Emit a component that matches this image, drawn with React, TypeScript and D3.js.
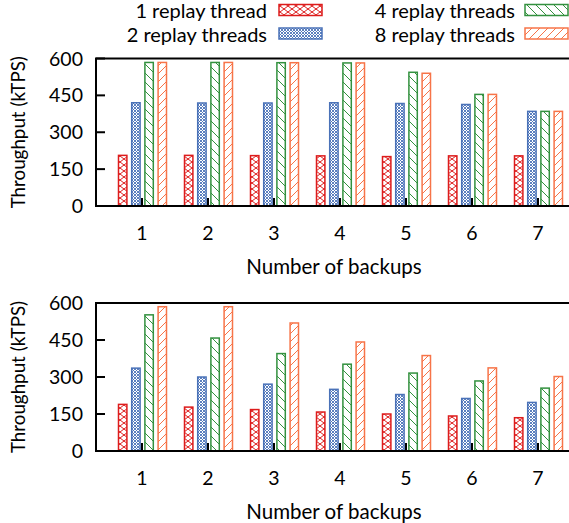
import React from 'react';
import { scaleLinear } from 'd3';

// values (kTPS)
const backups = [1, 2, 3, 4, 5, 6, 7];
const seriesNames = ['1 replay thread', '2 replay threads', '4 replay threads', '8 replay threads'];
const yTicks = [0, 150, 300, 450, 600];

const topOne = [209, 209, 208, 207, 204, 207, 207];
const topTwo = [423, 422, 422, 423, 420, 416, 388];
const topFour = [587, 587, 586, 585, 547, 457, 388];
const topEight = [587, 587, 586, 585, 543, 457, 388];

const botOne = [192, 181, 171, 161, 153, 145, 138];
const botTwo = [339, 303, 274, 253, 232, 216, 200];
const botFour = [555, 461, 398, 355, 319, 287, 258];
const botEight = [588, 588, 522, 445, 390, 340, 305];

const colors = ['#dd1c1c', '#4a72b8', '#33913f', '#f77448'];
const patternIds = ['pCross', 'pDense', 'pBack', 'pFwd'];
const font = 'Lato, "Open Sans", sans-serif';

const width = 569;
const height = 523;
const plotLeft = 96;
const plotRight = 572;

// x scale: category 1 at 142, 7 at 538
const xScale = scaleLinear().domain([1, 7]).range([142, 538]);
const unit = xScale(2) - xScale(1);
const offsets = [-0.3, -0.1, 0.1, 0.3];
const barW = 0.15 * unit;

function Patterns() {
  return (
    <defs>
      <pattern id="pCross" width={8} height={6} patternUnits="userSpaceOnUse">
        <rect width={8} height={6} fill="white" />
        <path d="M0,0L8,6M8,0L0,6" stroke={colors[0]} strokeWidth={1} />
      </pattern>
      <pattern id="pDense" width={3} height={3} patternUnits="userSpaceOnUse">
        <rect width={3} height={3} fill="white" />
        <path d="M0,0L3,3M3,0L0,3" stroke={colors[1]} strokeWidth={0.9} />
      </pattern>
      <pattern id="pBack" width={9} height={9} patternUnits="userSpaceOnUse">
        <rect width={9} height={9} fill="white" />
        <path d="M0,0L9,9M-1,8L1,10M8,-1L10,1" stroke={colors[2]} strokeWidth={1} />
      </pattern>
      <pattern id="pFwd" width={8} height={8} patternUnits="userSpaceOnUse">
        <rect width={8} height={8} fill="white" />
        <path d="M0,8L8,0M-1,1L1,-1M7,9L9,7" stroke={colors[3]} strokeWidth={1} />
      </pattern>
    </defs>
  );
}

function Panel({ series, y0, y600 }: { series: number[][]; y0: number; y600: number }) {
  const yScale = scaleLinear().domain([0, 600]).range([y0, y600]);
  return (
    <g>
      {series.map((vals, s) =>
        vals.map((v, i) => {
          const cx = xScale(backups[i]) + offsets[s] * unit + 0.5;
          return (
            <rect
              key={`${s}-${i}`}
              x={cx - barW / 2 + 0.75}
              y={yScale(v) + 0.75}
              width={barW - 1.5}
              height={yScale(0) - yScale(v) - 0.75}
              fill={`url(#${patternIds[s]})`}
              stroke={colors[s]}
              strokeWidth={1.5}
            />
          );
        })
      )}
      {/* inward ticks */}
      {backups.map((b) => (
        <line key={b} x1={xScale(b)} x2={xScale(b)} y1={y0} y2={y0 - 8} stroke="black" strokeWidth={2} />
      ))}
      {yTicks.map((t) => (
        <line key={t} x1={plotLeft} x2={plotLeft + 9} y1={yScale(t)} y2={yScale(t)} stroke="black" strokeWidth={2} />
      ))}
      <rect x={plotLeft} y={y600} width={plotRight - plotLeft} height={y0 - y600} fill="none" stroke="black" strokeWidth={2} />
      {yTicks.map((t) => (
        <text key={t} x={83} y={yScale(t)} dy="0.36em" textAnchor="end" fontSize={19.5} fontFamily={font}>
          {t}
        </text>
      ))}
      {backups.map((b) => (
        <text key={b} x={xScale(b)} y={y0 + 34} textAnchor="middle" fontSize={19.5} fontFamily={font}>
          {b}
        </text>
      ))}
      <text x={334} y={y0 + 68} textAnchor="middle" fontSize={20.5} fontFamily={font}>
        Number of backups
      </text>
      <text
        transform={`translate(25,${(y0 + y600) / 2}) rotate(-90)`}
        textAnchor="middle"
        fontSize={18.8}
        fontFamily={font}
      >
        Throughput (kTPS)
      </text>
    </g>
  );
}

const legendPos = [
  { tx: 267, sx: 279, y: 4.5 },
  { tx: 267, sx: 279, y: 28 },
  { tx: 515, sx: 525, y: 4.5 },
  { tx: 515, sx: 525, y: 28 },
];

export default function App() {
  return (
    <svg width={width} height={height} style={{ position: 'absolute', left: 0, top: 0, background: 'white' }}>
      <Patterns />
      {seriesNames.map((name, s) => (
        <g key={name}>
          <text x={legendPos[s].tx} y={legendPos[s].y + 6.5} dy="0.35em" textAnchor="end" fontSize={20} fontFamily={font}>
            {name}
          </text>
          <rect
            x={legendPos[s].sx}
            y={legendPos[s].y}
            width={43}
            height={11}
            fill={`url(#${patternIds[s]})`}
            stroke={colors[s]}
            strokeWidth={1.5}
          />
        </g>
      ))}
      <Panel series={[topOne, topTwo, topFour, topEight]} y0={206} y600={58.5} />
      <Panel series={[botOne, botTwo, botFour, botEight]} y0={451} y600={303} />
    </svg>
  );
}
